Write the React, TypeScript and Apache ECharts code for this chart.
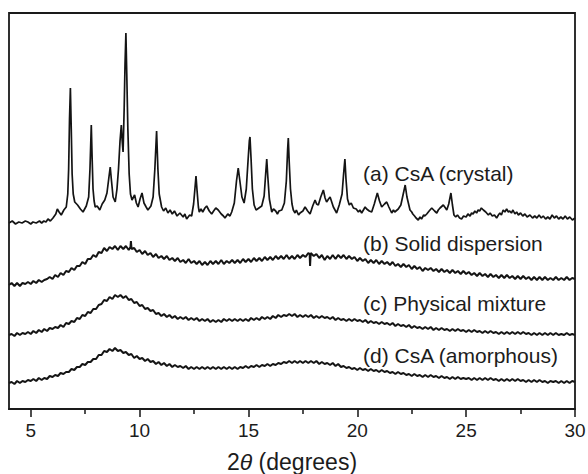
import React, { useEffect, useRef } from "react";
import * as echarts from "echarts";

// 2θ (degrees) vs. intensity (a.u., stacked offsets as drawn)
const crystal: [number, number][] = [
  [4.0,186],[4.15,188],[4.3,185],[4.45,187],[4.6,186],[4.75,188],[4.87,187],[5.0,185],[5.1,187],[5.25,186],[5.4,188],[5.5,186],[5.6,188],[5.7,187],[5.79,190],[5.9,188],[6.02,191],[6.15,195],[6.22,200],[6.30,197],[6.40,194],[6.52,199],[6.63,202],[6.70,215],[6.74,240],[6.78,290],[6.82,321],[6.86,280],[6.90,235],[6.95,215],[7.02,207],[7.15,204],[7.28,200],[7.40,197],[7.55,203],[7.66,212],[7.72,240],[7.78,284],[7.82,250],[7.86,220],[7.91,208],[7.96,202],[8.05,203],[8.17,199],[8.28,205],[8.40,209],[8.50,216],[8.58,230],[8.65,242],[8.70,230],[8.78,212],[8.88,207],[8.96,220],[9.03,240],[9.10,268],[9.16,284],[9.20,268],[9.24,257],[9.29,300],[9.33,345],[9.37,376],[9.41,335],[9.46,280],[9.52,235],[9.58,215],[9.65,209],[9.77,214],[9.85,206],[9.93,202],[10.02,210],[10.11,216],[10.20,206],[10.30,202],[10.38,199],[10.52,203],[10.62,212],[10.70,240],[10.78,278],[10.84,240],[10.90,215],[11.01,202],[11.10,198],[11.20,201],[11.30,196],[11.40,199],[11.50,195],[11.60,198],[11.72,193],[11.85,196],[12.00,192],[12.08,195],[12.16,190],[12.30,194],[12.39,193],[12.48,205],[12.54,220],[12.59,233],[12.64,218],[12.70,202],[12.74,197],[12.82,200],[12.90,197],[13.00,201],[13.08,203],[13.20,198],[13.31,195],[13.40,198],[13.50,201],[13.61,199],[13.75,195],[13.85,193],[13.92,191],[14.05,195],[14.15,193],[14.23,197],[14.35,206],[14.45,228],[14.53,241],[14.60,229],[14.70,212],[14.80,206],[14.90,220],[14.98,248],[15.04,268],[15.07,272],[15.12,250],[15.18,220],[15.26,204],[15.35,199],[15.48,201],[15.61,203],[15.72,213],[15.79,235],[15.84,250],[15.89,232],[15.96,210],[16.07,197],[16.15,200],[16.25,198],[16.33,195],[16.40,198],[16.53,199],[16.65,206],[16.74,228],[16.80,260],[16.83,271],[16.87,248],[16.93,220],[17.00,205],[17.06,199],[17.14,196],[17.20,199],[17.30,194],[17.37,196],[17.50,198],[17.60,202],[17.72,198],[17.83,195],[17.95,203],[18.06,209],[18.13,205],[18.21,204],[18.32,212],[18.44,219],[18.52,211],[18.59,207],[18.68,210],[18.75,212],[18.84,206],[18.90,202],[19.05,196],[19.17,204],[19.30,215],[19.37,235],[19.43,250],[19.48,230],[19.55,210],[19.63,204],[19.72,206],[19.82,201],[19.95,200],[20.05,197],[20.12,199],[20.20,196],[20.28,199],[20.36,202],[20.43,200],[20.55,198],[20.66,197],[20.78,205],[20.92,216],[21.02,208],[21.12,202],[21.25,205],[21.35,207],[21.45,202],[21.58,196],[21.66,199],[21.72,197],[21.88,200],[22.00,204],[22.10,214],[22.20,224],[22.28,212],[22.42,199],[22.50,197],[22.55,195],[22.63,193],[22.70,191],[22.80,189],[22.88,192],[22.95,190],[23.05,194],[23.10,193],[23.19,195],[23.30,198],[23.42,201],[23.55,198],[23.65,196],[23.72,199],[23.80,201],[23.95,204],[24.05,201],[24.11,199],[24.20,205],[24.30,216],[24.37,204],[24.44,194],[24.52,192],[24.60,194],[24.70,191],[24.79,190],[24.88,193],[25.00,192],[25.08,195],[25.18,193],[25.25,196],[25.32,195],[25.40,198],[25.48,196],[25.55,199],[25.62,198],[25.70,201],[25.79,199],[25.90,197],[26.02,194],[26.10,196],[26.20,193],[26.30,194],[26.40,191],[26.48,194],[26.55,196],[26.62,194],[26.70,199],[26.78,197],[26.86,200],[26.94,197],[27.00,198],[27.08,196],[27.15,199],[27.24,195],[27.32,197],[27.40,194],[27.50,196],[27.60,193],[27.70,195],[27.80,192],[27.93,194],[28.05,191],[28.15,193],[28.25,191],[28.35,194],[28.45,191],[28.54,193],[28.65,190],[28.75,192],[28.85,190],[28.95,194],[29.05,191],[29.15,193],[29.25,190],[29.35,192],[29.45,190],[29.55,193],[29.65,190],[29.76,192],[29.88,189],[30.0,191]
];

const solidDispersion: [number, number][] = [
  [4.0,124],[4.12,126],[4.25,123],[4.37,126],[4.5,123],[4.62,126],[4.75,125],[4.87,127],[5.0,125],[5.12,128],[5.25,126],[5.37,129],[5.5,127],[5.62,129],[5.75,130],[5.87,132],[6.0,130],[6.12,134],[6.25,132],[6.37,136],[6.5,134],[6.62,138],[6.75,137],[6.87,141],[7.0,139],[7.12,143],[7.25,143],[7.37,147],[7.5,145],[7.62,150],[7.75,150],[7.87,154],[8.0,152],[8.12,157],[8.25,156],[8.37,161],[8.5,158],[8.62,162],[8.75,160],[8.87,163],[9.0,159],[9.12,163],[9.25,160],[9.37,163],[9.5,159],[9.58,162],[9.6,168],[9.63,160],[9.75,161],[9.87,157],[10.0,159],[10.12,155],[10.25,158],[10.37,154],[10.5,156],[10.62,152],[10.75,155],[10.87,151],[11.0,153],[11.12,150],[11.25,153],[11.37,149],[11.5,151],[11.62,148],[11.75,151],[11.87,147],[12.0,149],[12.12,146],[12.25,150],[12.37,146],[12.5,148],[12.62,145],[12.75,148],[12.87,144],[13.0,147],[13.12,144],[13.25,148],[13.37,145],[13.5,148],[13.62,145],[13.75,149],[13.87,145],[14.0,148],[14.12,146],[14.25,149],[14.37,146],[14.5,149],[14.62,146],[14.75,150],[14.87,147],[15.0,150],[15.12,147],[15.25,151],[15.37,148],[15.5,151],[15.62,148],[15.75,152],[15.87,149],[16.0,152],[16.12,149],[16.25,153],[16.37,150],[16.5,153],[16.62,150],[16.75,154],[16.87,150],[17.0,153],[17.12,150],[17.25,154],[17.37,151],[17.5,154],[17.62,152],[17.75,156],[17.81,155],[17.83,143],[17.86,156],[18.0,153],[18.12,155],[18.25,151],[18.37,154],[18.5,149],[18.62,153],[18.75,150],[18.87,154],[19.0,150],[19.12,154],[19.25,151],[19.37,154],[19.5,150],[19.62,153],[19.75,150],[19.87,152],[20.0,148],[20.12,151],[20.25,148],[20.37,150],[20.5,146],[20.62,149],[20.75,146],[20.87,149],[21.0,145],[21.12,148],[21.25,145],[21.37,147],[21.5,144],[21.62,147],[21.75,143],[21.87,145],[22.0,142],[22.12,145],[22.25,142],[22.37,144],[22.5,140],[22.62,143],[22.75,140],[22.87,142],[23.0,138],[23.12,141],[23.25,139],[23.37,141],[23.5,138],[23.62,140],[23.75,137],[23.87,140],[24.0,137],[24.12,139],[24.25,136],[24.37,139],[24.5,136],[24.62,138],[24.75,135],[24.87,138],[25.0,135],[25.12,137],[25.25,134],[25.37,136],[25.5,133],[25.62,136],[25.75,133],[25.87,135],[26.0,132],[26.12,135],[26.25,132],[26.37,134],[26.5,131],[26.62,134],[26.75,131],[26.87,134],[27.0,131],[27.12,133],[27.25,130],[27.37,133],[27.5,130],[27.62,133],[27.75,130],[27.87,132],[28.0,129],[28.12,132],[28.25,129],[28.37,132],[28.5,129],[28.62,132],[28.75,129],[28.87,131],[29.0,129],[29.12,132],[29.25,129],[29.37,131],[29.5,129],[29.62,132],[29.75,129],[29.87,131],[30.0,130]
];

const physicalMixture: [number, number][] = [
  [4.0,74],[4.12,75],[4.25,73],[4.37,76],[4.5,74],[4.62,76],[4.75,75],[4.87,77],[5.0,75],[5.12,78],[5.25,76],[5.37,79],[5.5,77],[5.62,80],[5.75,78],[5.87,81],[6.0,80],[6.12,82],[6.25,81],[6.37,84],[6.5,82],[6.62,86],[6.75,85],[6.87,88],[7.0,87],[7.12,91],[7.25,90],[7.37,94],[7.5,93],[7.62,97],[7.75,96],[7.87,100],[8.0,100],[8.12,104],[8.25,105],[8.37,109],[8.5,108],[8.62,112],[8.75,110],[8.87,114],[9.0,112],[9.12,114],[9.25,111],[9.37,113],[9.5,109],[9.62,110],[9.75,106],[9.87,107],[10.0,103],[10.12,104],[10.25,100],[10.37,101],[10.5,98],[10.62,99],[10.75,95],[10.87,96],[11.0,93],[11.12,95],[11.25,92],[11.37,94],[11.5,91],[11.62,93],[11.75,90],[11.87,92],[12.0,90],[12.12,92],[12.25,89],[12.37,91],[12.5,89],[12.62,91],[12.75,88],[12.87,90],[13.0,88],[13.12,90],[13.25,87],[13.37,89],[13.5,87],[13.62,89],[13.75,87],[13.87,90],[14.0,88],[14.12,90],[14.25,88],[14.37,90],[14.5,88],[14.62,90],[14.75,88],[14.87,90],[15.0,88],[15.12,91],[15.25,89],[15.37,91],[15.5,89],[15.62,92],[15.75,90],[15.87,92],[16.0,90],[16.12,93],[16.25,91],[16.37,94],[16.5,92],[16.62,94],[16.75,93],[16.87,95],[17.0,93],[17.12,95],[17.25,92],[17.37,94],[17.5,92],[17.62,94],[17.75,92],[17.87,94],[18.0,91],[18.12,93],[18.25,91],[18.37,93],[18.5,91],[18.62,92],[18.75,90],[18.87,92],[19.0,89],[19.12,91],[19.25,89],[19.37,90],[19.5,88],[19.62,90],[19.75,88],[19.87,90],[20.0,88],[20.12,89],[20.25,87],[20.37,89],[20.5,86],[20.62,88],[20.75,86],[20.87,87],[21.0,85],[21.12,87],[21.25,85],[21.37,86],[21.5,84],[21.62,86],[21.75,83],[21.87,85],[22.0,83],[22.12,84],[22.25,82],[22.37,84],[22.5,81],[22.62,83],[22.75,81],[22.87,82],[23.0,80],[23.12,82],[23.25,80],[23.37,82],[23.5,79],[23.62,81],[23.75,79],[23.87,81],[24.0,79],[24.12,80],[24.25,78],[24.37,80],[24.5,78],[24.62,80],[24.75,78],[24.87,79],[25.0,77],[25.12,79],[25.25,77],[25.37,79],[25.5,77],[25.62,78],[25.75,76],[25.87,78],[26.0,76],[26.12,78],[26.25,76],[26.37,77],[26.5,75],[26.62,77],[26.75,75],[26.87,77],[27.0,75],[27.12,77],[27.25,75],[27.37,77],[27.5,75],[27.62,77],[27.75,75],[27.87,76],[28.0,74],[28.12,76],[28.25,74],[28.37,76],[28.5,74],[28.62,76],[28.75,74],[28.87,76],[29.0,74],[29.12,76],[29.25,74],[29.37,75],[29.5,74],[29.62,76],[29.75,74],[29.87,75],[30.0,74]
];

const amorphous: [number, number][] = [
  [4.0,26],[4.12,27],[4.25,25],[4.37,28],[4.5,26],[4.62,28],[4.75,27],[4.87,29],[5.0,28],[5.12,30],[5.25,28],[5.37,31],[5.5,29],[5.62,31],[5.75,30],[5.87,33],[6.0,32],[6.12,34],[6.25,33],[6.37,36],[6.5,35],[6.62,37],[6.75,37],[6.87,40],[7.0,39],[7.12,42],[7.25,42],[7.37,45],[7.5,44],[7.62,47],[7.75,47],[7.87,50],[8.0,50],[8.12,54],[8.25,54],[8.37,58],[8.5,57],[8.62,60],[8.75,58],[8.87,61],[9.0,58],[9.12,59],[9.25,56],[9.37,57],[9.5,54],[9.62,55],[9.75,51],[9.87,53],[10.0,50],[10.12,51],[10.25,48],[10.37,50],[10.5,47],[10.62,48],[10.75,45],[10.87,47],[11.0,44],[11.12,46],[11.25,43],[11.37,45],[11.5,42],[11.62,44],[11.75,42],[11.87,43],[12.0,41],[12.12,43],[12.25,40],[12.37,42],[12.5,40],[12.62,42],[12.75,40],[12.87,42],[13.0,40],[13.12,42],[13.25,40],[13.37,42],[13.5,40],[13.62,42],[13.75,40],[13.87,42],[14.0,40],[14.12,42],[14.25,40],[14.37,42],[14.5,40],[14.62,42],[14.75,41],[14.87,43],[15.0,41],[15.12,43],[15.25,42],[15.37,44],[15.5,42],[15.62,44],[15.75,43],[15.87,45],[16.0,43],[16.12,45],[16.25,44],[16.37,46],[16.5,45],[16.62,47],[16.75,46],[16.87,48],[17.0,46],[17.12,48],[17.25,46],[17.37,48],[17.5,46],[17.62,48],[17.75,46],[17.87,48],[18.0,46],[18.12,48],[18.25,45],[18.37,47],[18.5,45],[18.62,46],[18.75,44],[18.87,46],[19.0,43],[19.12,45],[19.25,42],[19.37,43],[19.5,41],[19.62,42],[19.75,40],[19.87,41],[20.0,39],[20.12,41],[20.25,39],[20.37,40],[20.5,38],[20.62,40],[20.75,38],[20.87,39],[21.0,37],[21.12,39],[21.25,37],[21.37,38],[21.5,36],[21.62,37],[21.75,35],[21.87,37],[22.0,35],[22.12,36],[22.25,34],[22.37,35],[22.5,33],[22.62,35],[22.75,33],[22.87,34],[23.0,32],[23.12,34],[23.25,32],[23.37,34],[23.5,32],[23.62,33],[23.75,31],[23.87,33],[24.0,31],[24.12,32],[24.25,30],[24.37,32],[24.5,30],[24.62,32],[24.75,30],[24.87,31],[25.0,30],[25.12,31],[25.25,29],[25.37,31],[25.5,29],[25.62,31],[25.75,29],[25.87,31],[26.0,29],[26.12,31],[26.25,29],[26.37,30],[26.5,28],[26.62,30],[26.75,28],[26.87,30],[27.0,28],[27.12,30],[27.25,28],[27.37,30],[27.5,28],[27.62,29],[27.75,27],[27.87,29],[28.0,27],[28.12,29],[28.25,27],[28.37,29],[28.5,27],[28.62,28],[28.75,26],[28.87,28],[29.0,27],[29.12,28],[29.25,26],[29.37,28],[29.5,26],[29.62,28],[29.75,26],[29.87,28],[30.0,27]
];

const seriesLabels = ["(a) CsA (crystal)", "(b) Solid dispersion", "(c) Physical mixture", "(d) CsA (amorphous)"];
const majorTicks = [5, 10, 15, 20, 25, 30];
const minorTicks = [7.5, 12.5, 17.5, 22.5, 27.5];

const FONT = "'Liberation Sans', Arial, Helvetica, sans-serif";
const INK = "#1c1c1c";

export default function App() {
  const ref = useRef<HTMLDivElement>(null);
  useEffect(() => {
    if (!ref.current) return;
    const chart = echarts.init(ref.current, undefined, { renderer: "svg" });
    const lineSeries = (data: [number, number][], w: number) => ({
      type: "line",
      data,
      showSymbol: false,
      symbol: "none",
      lineStyle: { color: "#141414", width: w },
      xAxisIndex: 0,
      yAxisIndex: 0,
    });
    const labelY = [175, 245, 305, 357];
    const G = { left: 9, top: 13, right: 13, bottom: 65 };
    chart.setOption({
      animation: false,
      backgroundColor: "#ffffff",
      grid: { ...G, outerBoundsMode: "none", containLabel: false },
      xAxis: [
        {
          type: "value",
          min: 4,
          max: 30,
          position: "bottom",
          axisLine: { show: true, onZero: false, lineStyle: { color: "#1a1a1a", width: 1.8 } },
          axisTick: { show: true, inside: false, length: 8, customValues: majorTicks, lineStyle: { color: "#222", width: 1.6 } },
          axisLabel: {
            show: true,
            customValues: majorTicks,
            margin: 12,
            fontSize: 19,
            fontFamily: FONT,
            color: INK,
          },
          splitLine: { show: false },
          name: "2{i|θ} (degrees)",
          nameLocation: "middle",
          nameGap: 41,
          nameTextStyle: {
            fontSize: 23,
            fontFamily: FONT,
            color: INK,
            rich: { i: { fontSize: 23, fontStyle: "italic", fontFamily: FONT, color: INK } },
          },
        },
        {
          type: "value",
          min: 4,
          max: 30,
          position: "bottom",
          axisLine: { show: false },
          axisTick: { show: true, inside: false, length: 5, customValues: minorTicks, lineStyle: { color: "#222", width: 1.6 } },
          axisLabel: { show: false },
          splitLine: { show: false },
        },
      ],
      yAxis: {
        type: "value",
        min: 0,
        max: 396,
        show: false,
        splitLine: { show: false },
      },
      series: [
        lineSeries(crystal, 1.7),
        lineSeries(solidDispersion, 2),
        lineSeries(physicalMixture, 2),
        lineSeries(amorphous, 2),
      ],
      graphic: [
        {
          type: "rect",
          z: 100,
          silent: true,
          shape: { x: G.left, y: G.top, width: 588 - G.left - G.right, height: 474 - G.top - G.bottom },
          style: { fill: "none", stroke: "#1a1a1a", lineWidth: 1.8 },
        },
        ...seriesLabels.map((t, i) => ({
          type: "text",
          left: 363,
          top: labelY[i] - 12,
          style: { text: t, fontSize: 21, fontFamily: FONT, fill: INK },
        })),
      ],
    });
    return () => chart.dispose();
  }, []);
  return <div ref={ref} style={{ position: "absolute", left: 0, top: 0, width: 588, height: 474 }} />;
}
